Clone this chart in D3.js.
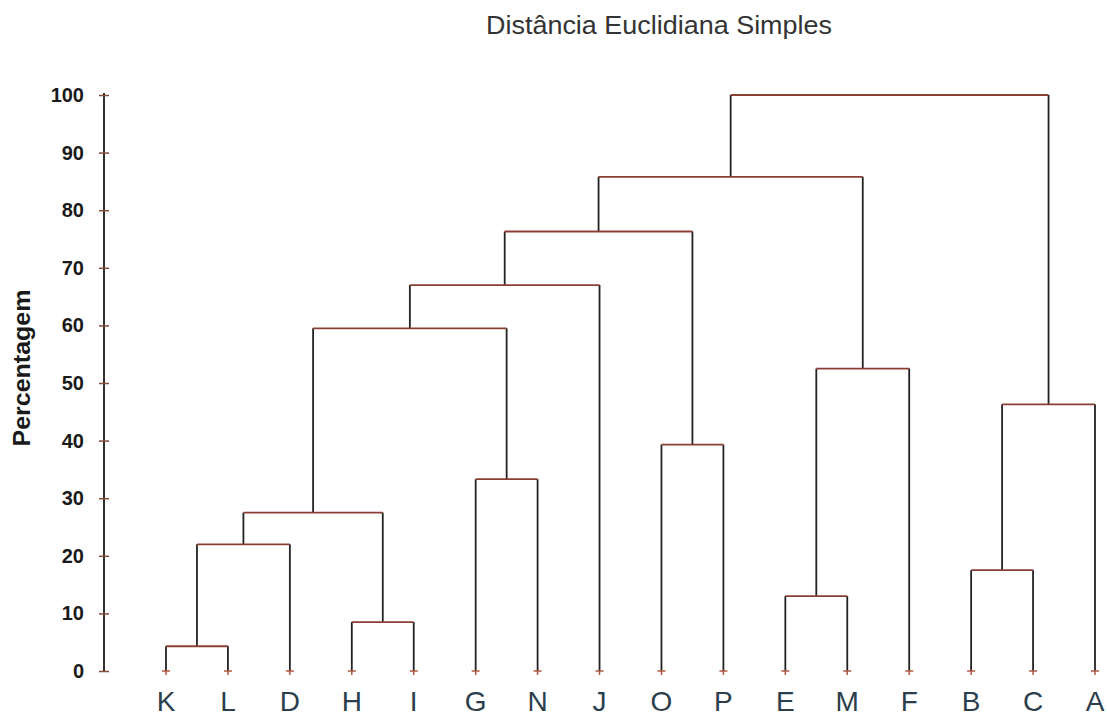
<!DOCTYPE html>
<html>
<head>
<meta charset="utf-8">
<script src="https://cdn.jsdelivr.net/npm/d3@7"></script>
<style>
  body { margin: 0; background: #fff; }
  svg { display: block; }
</style>
</head>
<body>
<div id="container"></div>
<script>
(function(){
//leaf order as drawn on the x axis
    var leaves = ["K", "L", "D", "H", "I", "G", "N", "J", "O", "P", "E", "M", "F", "B", "C", "A"];

//linkage: node ids 0-15 are leaves, merge i creates node 16 + i
    var mergeLeft   = [0, 16, 3, 17, 5, 19, 21, 8, 22, 10, 25, 24, 13, 28, 27];
    var mergeRight  = [1, 2, 4, 18, 6, 20, 7, 9, 23, 11, 12, 26, 14, 15, 29];
    var mergeHeight = [4.3, 22, 8.5, 27.5, 33.3, 59.5, 67, 39.3, 76.3, 13, 52.5, 85.8, 17.5, 46.3, 100];

    var yTicks = [0, 10, 20, 30, 40, 50, 60, 70, 80, 90, 100];

    var title = "Distância Euclidiana Simples",
        yLabel = "Percentagem";

    window.onload = drawChart;

    function drawChart() {
        var width = 1107,
            height = 717;

        var svg = d3.select("#container")
            .append("svg")
            .attr("width", width)
            .attr("height", height);

        var x = d3.scalePoint()
            .domain(leaves)
            .range([166, 1095]);

        var y = d3.scaleLinear()
            .domain([0, 100])
            .range([671, 95]);

        //position and height of every node
        var nodeX = leaves.map(function(d){ return x(d); });
        var nodeH = leaves.map(function(){ return 0; });
        mergeHeight.forEach(function(h, i){
            nodeX.push((nodeX[mergeLeft[i]] + nodeX[mergeRight[i]]) / 2);
            nodeH.push(h);
        });

        //title
        svg.append("text")
            .attr("x", 659)
            .attr("y", 34)
            .attr("text-anchor", "middle")
            .style("font-family", "Liberation Sans, Arial, sans-serif")
            .style("font-size", "25px")
            .style("fill", "#333")
            .attr("textLength", 346)
            .attr("lengthAdjust", "spacingAndGlyphs")
            .text(title);

        //y axis
        var yAxis = d3.axisLeft(y)
            .tickValues(yTicks)
            .tickSize(5)
            .tickPadding(15);

        var axisG = svg.append("g")
            .attr("transform", "translate(104,0)")
            .call(yAxis);

        axisG.select(".domain")
            .attr("d", "M0," + (y(100) - 2) + "V" + y(0))
            .attr("stroke", "#1a1a1a")
            .attr("stroke-width", 1.8);

        axisG.selectAll(".tick line")
            .attr("x1", 5)
            .attr("stroke", "#8a4a3a")
            .attr("stroke-width", 1.5);

        axisG.selectAll(".tick text")
            .style("font-family", "Liberation Sans, Arial, sans-serif")
            .style("font-size", "20px")
            .style("font-weight", "bold")
            .style("fill", "#1a1a1a");

        //y label
        svg.append("text")
            .attr("transform", "translate(30,368) rotate(-90)")
            .attr("text-anchor", "middle")
            .style("font-family", "Liberation Sans, Arial, sans-serif")
            .style("font-size", "23px")
            .style("font-weight", "bold")
            .style("fill", "#1a1a1a")
            .attr("textLength", 157)
            .attr("lengthAdjust", "spacingAndGlyphs")
            .text(yLabel);

        var tree = svg.append("g");

        //vertical stems (dark)
        mergeHeight.forEach(function(h, i){
            [mergeLeft[i], mergeRight[i]].forEach(function(c){
                tree.append("line")
                    .attr("x1", nodeX[c])
                    .attr("x2", nodeX[c])
                    .attr("y1", y(h))
                    .attr("y2", y(nodeH[c]))
                    .attr("stroke", "#222")
                    .attr("stroke-width", 1.8);
            });
        });

        //horizontal joins (brownish red)
        mergeHeight.forEach(function(h, i){
            tree.append("line")
                .attr("x1", nodeX[mergeLeft[i]])
                .attr("x2", nodeX[mergeRight[i]])
                .attr("y1", y(h))
                .attr("y2", y(h))
                .attr("stroke", "#8a3f33")
                .attr("stroke-width", 1.8);
        });

        //leaf markers
        var marks = tree.selectAll(".leafMark")
            .data(leaves)
            .enter()
            .append("g")
            .attr("class", "leafMark")
            .attr("transform", function(d){ return "translate(" + x(d) + "," + y(0) + ")"; });

        marks.append("line")
            .attr("x1", -4).attr("x2", 4)
            .attr("y1", 0).attr("y2", 0)
            .attr("stroke", "#b0583f")
            .attr("stroke-width", 1.5);

        marks.append("line")
            .attr("x1", 0).attr("x2", 0)
            .attr("y1", 0).attr("y2", 4)
            .attr("stroke", "#b0583f")
            .attr("stroke-width", 1.5);

        //leaf labels
        svg.selectAll(".leafLabel")
            .data(leaves)
            .enter()
            .append("text")
            .attr("class", "leafLabel")
            .attr("x", function(d){ return x(d); })
            .attr("y", 711)
            .attr("text-anchor", "middle")
            .style("font-family", "Liberation Sans, Arial, sans-serif")
            .style("font-size", "28px")
            .style("fill", "#2c3e4c")
            .text(function(d){ return d; });
    }
})();
</script>
</body>
</html>
